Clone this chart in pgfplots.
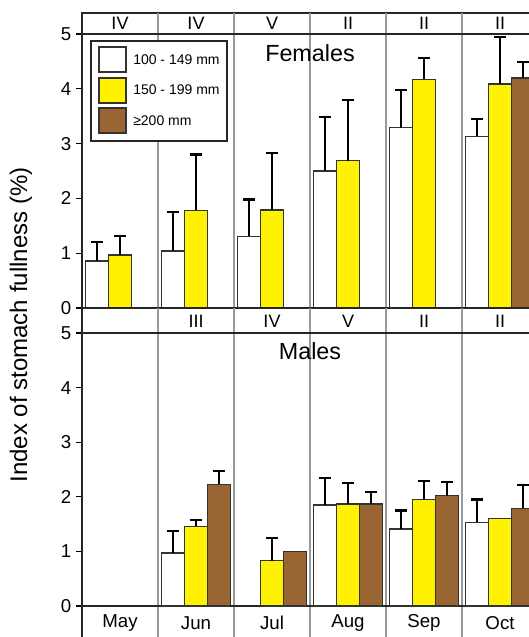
\documentclass[border=0pt]{standalone}
\usepackage{pgfplots}
\pgfplotsset{compat=1.18}
\usepackage{fontspec}
\setmainfont{Liberation Sans}
\definecolor{brn}{HTML}{996633}
\definecolor{sep}{HTML}{9A9A9A}

% bars of a month sit at month-0.3026 (100-149), month (150-199), month+0.3026 (>=200)
\pgfplotsset{
  panel/.style={
    anchor=south west, x=57pt, xmin=-0.5, xmax=5.5,
    xtick=\empty, ytick={0,1,2,3,4,5}, ytick pos=left,
    tick align=outside, major tick length=4.5pt,
    tick style={black, line width=0.8pt},
    axis line style={black!85, line width=0.9pt},
    /pgf/number format/assume math mode=true,
    tick label style={font=\fontsize{14}{16}\selectfont},
    clip=false,
  },
  barbase/.style={ybar, bar width=0.3026, bar shift=0pt, draw=black!80, line width=1pt},
  errs/.style={error bars/.cd, y dir=plus, y explicit,
    error bar style={line width=0.8pt, black},
    error mark options={rotate=90, line width=1.6pt, mark size=4.5pt, black}},
}
\tikzset{
  roman/.style={font=\fontsize{13.5}{15}\selectfont},
  month/.style={font=\fontsize{14}{16}\selectfont},
}

% 1 px of the reference = 0.75pt
\begin{document}
\begin{tikzpicture}
\path[use as bounding box, clip] (0pt,0pt) rectangle (396.75pt,477.75pt);

% Females
\begin{axis}[panel, at={(61.5pt,246.75pt)}, y=41.1pt, ymin=0, ymax=5.383]
  \pgfplotsinvokeforeach{0.5,1.5,2.5,3.5,4.5}{
    \draw[sep, line width=0.8pt] (axis cs:#1,0) -- (axis cs:#1,5.383);}
  \draw[black!85, line width=0.9pt] (axis cs:-0.5,5) -- (axis cs:5.5,5);
  \addplot[barbase, fill=white, errs] coordinates {
    (-0.3026,0.86) +- (0,0.34) (0.6974,1.04) +- (0,0.71) (1.6974,1.31) +- (0,0.67)
    (2.6974,2.50) +- (0,0.99) (3.6974,3.29) +- (0,0.69) (4.6974,3.13) +- (0,0.32)};
  \addplot[barbase, fill=yellow, errs] coordinates {
    (0,0.97) +- (0,0.34) (1,1.78) +- (0,1.02) (2,1.79) +- (0,1.04)
    (3,2.69) +- (0,1.10) (4,4.17) +- (0,0.39) (5,4.09) +- (0,0.86)};
  \addplot[barbase, fill=brn, errs] coordinates {
    (5.3026,4.20) +- (0,0.29)};
  \node[roman] at (axis cs:0,5.19) {IV};
  \node[roman] at (axis cs:1,5.19) {IV};
  \node[roman] at (axis cs:2,5.19) {V};
  \node[roman] at (axis cs:3,5.19) {II};
  \node[roman] at (axis cs:4,5.19) {II};
  \node[roman] at (axis cs:5,5.19) {II};
  \node[font=\fontsize{17.5}{20}\selectfont] at (axis cs:2.5,4.65) {Females};
\end{axis}

% Males
\begin{axis}[panel, at={(61.5pt,-1.32pt)}, y=40.95pt, ymin=-0.6, ymax=5.458]
  \pgfplotsinvokeforeach{0.5,1.5,2.5,3.5,4.5}{
    \draw[sep, line width=0.8pt] (axis cs:#1,-0.6) -- (axis cs:#1,5.458);}
  \draw[black!85, line width=0.9pt] (axis cs:-0.5,5) -- (axis cs:5.5,5);
  \draw[black!85, line width=0.9pt] (axis cs:-0.5,0) -- (axis cs:5.5,0);
  \addplot[barbase, fill=white, errs] coordinates {
    (0.6974,0.97) +- (0,0.40) (2.6974,1.85) +- (0,0.49) (3.6974,1.41) +- (0,0.34)
    (4.6974,1.53) +- (0,0.42)};
  \addplot[barbase, fill=yellow, errs] coordinates {
    (1,1.46) +- (0,0.12) (2,0.83) +- (0,0.42) (3,1.87) +- (0,0.38)
    (4,1.95) +- (0,0.34)};
  \addplot[barbase, fill=yellow] coordinates {(5,1.60)};
  \addplot[barbase, fill=brn, errs] coordinates {
    (1.3026,2.23) +- (0,0.24) (3.3026,1.87) +- (0,0.22) (4.3026,2.02) +- (0,0.25)
    (5.3026,1.79) +- (0,0.43)};
  \addplot[barbase, fill=brn] coordinates {(2.3026,1.00)};
  \node[roman] at (axis cs:1,5.22) {III};
  \node[roman] at (axis cs:2,5.22) {IV};
  \node[roman] at (axis cs:3,5.22) {V};
  \node[roman] at (axis cs:4,5.22) {II};
  \node[roman] at (axis cs:5,5.22) {II};
  \node[font=\fontsize{17.5}{20}\selectfont] at (axis cs:2.5,4.67) {Males};
  \node[month] at (axis cs:0,-0.31) {May};
  \node[month] at (axis cs:1,-0.31) {Jun};
  \node[month] at (axis cs:2,-0.31) {Jul};
  \node[month] at (axis cs:3,-0.31) {Aug};
  \node[month] at (axis cs:4,-0.31) {Sep};
  \node[month] at (axis cs:5,-0.31) {Oct};
\end{axis}

\begin{scope}[x=0.75pt, y=0.75pt]
% y label
\node[rotate=90, inner sep=0pt, font=\fontsize{18}{20}\selectfont] at (21,312)
  {Index of stomach fullness (\%)};
% legend
\draw[fill=white, draw=black!85, line width=0.9pt] (91,496) rectangle (227,596);
\draw[fill=white, draw=black!80, line width=1pt] (99,565) rectangle (126,590);
\draw[fill=yellow, draw=black!80, line width=1pt] (99,534) rectangle (126,559);
\draw[fill=brn, draw=black!80, line width=1pt] (99,504) rectangle (126,529);
\begin{scope}[every node/.style={anchor=west, inner sep=0pt, font=\fontsize{10.5}{12}\selectfont}]
  \node at (133,577) {100 - 149 mm};
  \node at (133,547) {150 - 199 mm};
  \node at (133,516) {≥200 mm};
\end{scope}
\end{scope}
\end{tikzpicture}
\end{document}
